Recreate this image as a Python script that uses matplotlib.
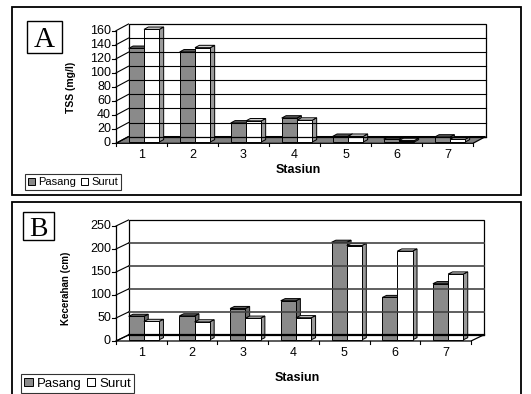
import matplotlib
matplotlib.use("Agg")
import matplotlib.pyplot as plt
from matplotlib.patches import Polygon, Rectangle, Patch

# ---- data -------------------------------------------------------------
stations = ["1", "2", "3", "4", "5", "6", "7"]
series_names = ["Pasang", "Surut"]

tss_pasang = [133, 128, 27, 34, 8, 4, 7]
tss_surut = [160, 134, 30, 31, 8, 2, 4]
tss_ticks = [0, 20, 40, 60, 80, 100, 120, 140, 160]

kec_pasang = [51, 52, 68, 85, 212, 92, 122]
kec_surut = [40, 39, 47, 48, 205, 193, 143]
kec_ticks = [0, 50, 100, 150, 200, 250]

# ---- figure -----------------------------------------------------------
W, H = 531, 394
DPI = 100
fig = plt.figure(figsize=(W / DPI, H / DPI), dpi=DPI)
fig.patch.set_facecolor("white")
plt.rcParams["font.family"] = ["Liberation Sans", "DejaVu Sans"]

FACE = {"Pasang": ("#8a8a8a", "#5e5e5e", "#6a6a6a"),   # front, top, side
        "Surut": ("#ffffff", "#d4d4d4", "#9a9a9a")}


def fx(px):
    return px / W


def fy(py):
    return 1 - py / H


def frame(x0, y0, x1, y1, lw=1.3):
    fig.add_artist(Rectangle((fx(x0), fy(y1)), fx(x1) - fx(x0), fy(y0) - fy(y1),
                             transform=fig.transFigure, fill=False,
                             edgecolor="black", linewidth=lw))


def letter_box(x0, y0, x1, y1, letter, size):
    fig.add_artist(Rectangle((fx(x0), fy(y1)), fx(x1) - fx(x0), fy(y0) - fy(y1),
                             transform=fig.transFigure, facecolor="white",
                             edgecolor="black", linewidth=1.0))
    fig.text(fx((x0 + x1) / 2), fy((y0 + y1) / 2), letter, ha="center",
             va="center_baseline", family="Liberation Serif", fontsize=size)


def chart3d(box, ymax, ticks, pasang, surut, depth_px, floor_color, grid_color,
            grid_lw, base_lw, ylabel, ylabel_xy, ylabel_size, xlabel_y, legend_box,
            legend_size):
    x0, y0, x1, y1 = box  # pixel extents of the front plane
    ax = fig.add_axes([fx(x0), fy(y0), fx(x1) - fx(x0), fy(y1) - fy(y0)])
    ax.set_xlim(0, len(stations))
    ax.set_ylim(0, ymax)
    ax.axis("off")

    # depth offset converted to data units
    DX = depth_px[0] / (x1 - x0) * len(stations)
    DY = depth_px[1] / (y0 - y1) * ymax
    n = len(stations)
    kw = dict(clip_on=False)

    # back wall
    ax.add_patch(Polygon([(DX, DY), (n + DX, DY), (n + DX, ymax + DY), (DX, ymax + DY)],
                         closed=True, facecolor="white", edgecolor="black", lw=0.9, **kw))
    for t in ticks[1:-1]:
        ax.plot([DX, n + DX], [t + DY, t + DY], color=grid_color, lw=grid_lw, **kw)
    # side wall grid
    for t in ticks:
        ax.plot([0, DX], [t, t + DY], color="black", lw=0.8, **kw)
    ax.plot([0, 0], [0, ymax], color="black", lw=0.9, **kw)
    # floor
    ax.add_patch(Polygon([(0, 0), (n, 0), (n + DX, DY), (DX, DY)], closed=True,
                         facecolor=floor_color, edgecolor="black", lw=0.9, **kw))
    ax.plot([DX, n + DX], [DY, DY], color="black", lw=base_lw, **kw)

    # y ticks and labels
    tick_dx = 4 / (x1 - x0) * n
    for t in ticks:
        ax.plot([-tick_dx, 0], [t, t], color="black", lw=0.8, **kw)
        ax.text(-tick_dx - 0.02, t, str(t), ha="right", va="center", fontsize=9, **kw)
    # x ticks and labels
    tick_dy = 3 / (y0 - y1) * ymax
    lab_dy = 12 / (y0 - y1) * ymax
    for i in range(n + 1):
        ax.plot([i, i], [0, -tick_dy], color="black", lw=0.8, **kw)
    for i, s in enumerate(stations):
        ax.text(i + 0.5, -lab_dy, s, ha="center", va="center", fontsize=9, **kw)

    # bars
    bw = 0.3
    z0, z1 = 0.2, 0.55
    for i in range(n):
        for j, (name, vals) in enumerate(zip(series_names, [pasang, surut])):
            v = vals[i]
            left = i + 0.5 - bw + j * bw + z0 * DX
            base = z0 * DY
            ddx, ddy = (z1 - z0) * DX, (z1 - z0) * DY
            front, top, side = FACE[name]
            ax.add_patch(Polygon([(left + bw, base), (left + bw + ddx, base + ddy),
                                  (left + bw + ddx, base + v + ddy), (left + bw, base + v)],
                                 closed=True, facecolor=side, edgecolor="black", lw=0.7, **kw))
            ax.add_patch(Polygon([(left, base + v), (left + bw, base + v),
                                  (left + bw + ddx, base + v + ddy), (left + ddx, base + v + ddy)],
                                 closed=True, facecolor=top, edgecolor="black", lw=0.7, **kw))
            ax.add_patch(Rectangle((left, base), bw, v, facecolor=front,
                                   edgecolor="black", lw=0.7, **kw))

    # axis titles
    fig.text(fx(ylabel_xy[0]), fy(ylabel_xy[1]), ylabel, rotation=90, ha="center",
             va="center", fontsize=ylabel_size, fontweight="bold")
    fig.text(fx((x0 + x1) / 2 + 4), fy(xlabel_y), "Stasiun", ha="center", va="center",
             fontsize=9, fontweight="bold")

    # legend
    handles = [Patch(facecolor=FACE[s][0], edgecolor="black", lw=0.7) for s in series_names]
    lx, ly = legend_box
    leg = ax.legend(handles, series_names, loc="lower left", ncol=2,
                    bbox_to_anchor=(fx(lx), fy(ly)), bbox_transform=fig.transFigure,
                    fontsize=legend_size, handlelength=0.65, handleheight=0.65,
                    handletextpad=0.3, columnspacing=0.4, borderpad=0.25,
                    borderaxespad=0, frameon=True, fancybox=False)
    leg.get_frame().set_edgecolor("black")
    leg.get_frame().set_linewidth(0.8)
    return ax


# panel A: TSS
frame(12, 7, 521, 195)
chart3d((116, 143.3, 473, 30.7), 160, tss_ticks, tss_pasang, tss_surut,
        depth_px=(12.5, 6.7), floor_color="#808080", grid_color="black", grid_lw=0.8,
        base_lw=0.9, ylabel="TSS (mg/l)", ylabel_xy=(71, 87), ylabel_size=7.5,
        xlabel_y=170, legend_box=(25, 190), legend_size=8)
letter_box(27, 21, 62, 53, "A", 21)

# panel B: Kecerahan
frame(12, 202, 521, 398)
chart3d((116, 341, 471, 226), 250, kec_ticks, kec_pasang, kec_surut,
        depth_px=(12.5, 6.0), floor_color="white", grid_color="#444444", grid_lw=1.2,
        base_lw=1.6, ylabel="Kecerahan (cm)", ylabel_xy=(66, 288), ylabel_size=7,
        xlabel_y=378, legend_box=(21, 393), legend_size=9.5)
letter_box(23, 212, 54, 240, "B", 20)

fig.savefig("out.png", dpi=DPI, facecolor="white")
